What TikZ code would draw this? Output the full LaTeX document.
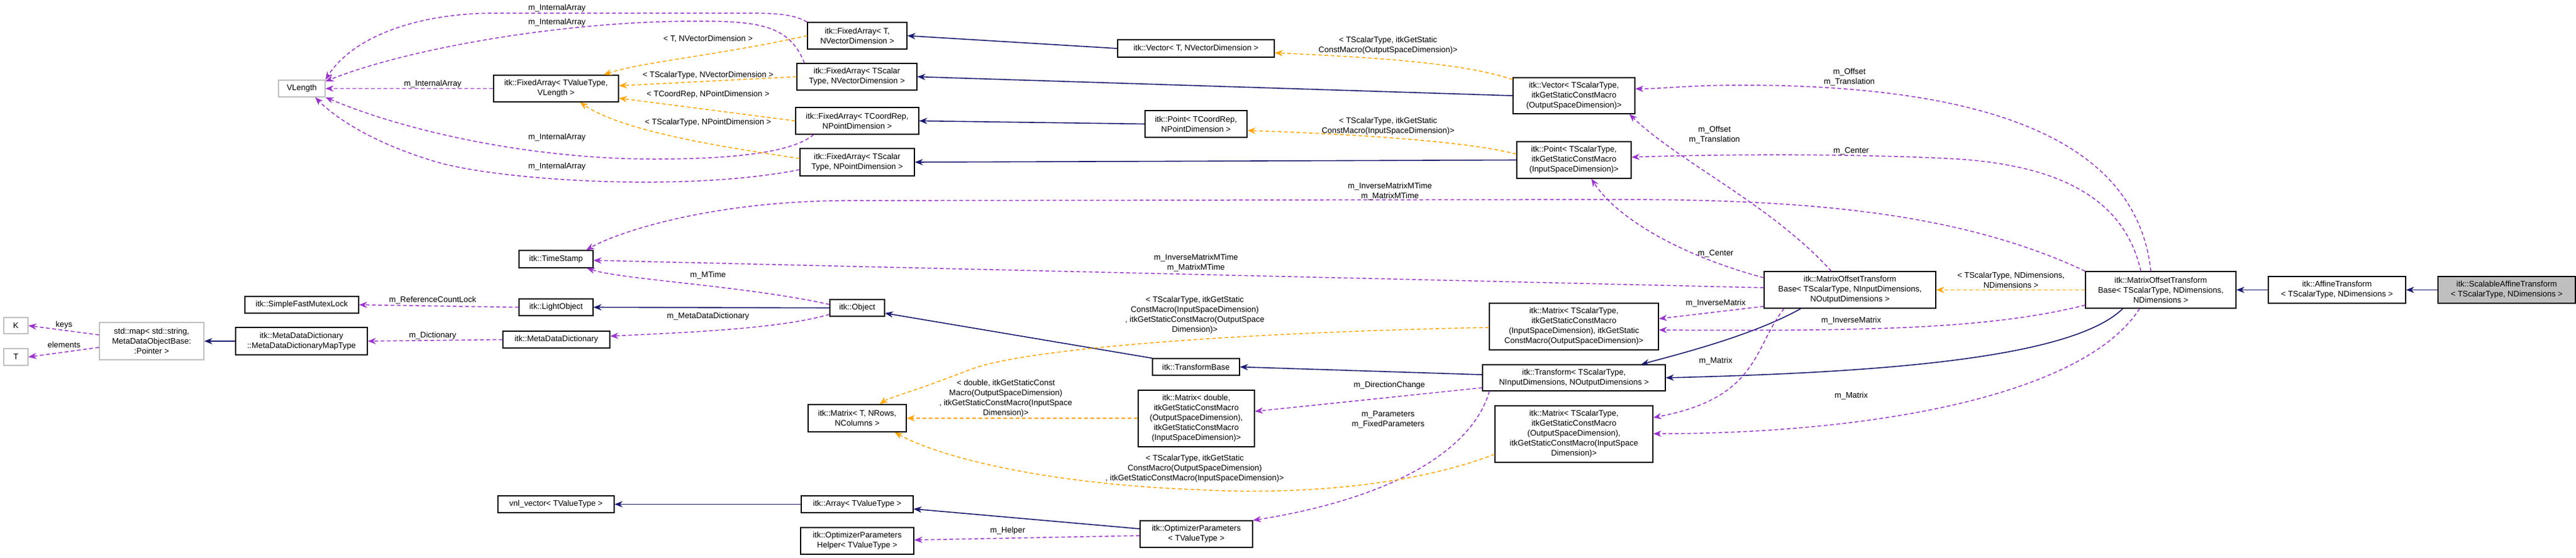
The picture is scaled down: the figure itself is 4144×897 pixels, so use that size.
\documentclass[tikz,border=0pt]{standalone}
\usepackage{fontspec}
\setmainfont{Liberation Sans}
\usetikzlibrary{arrows.meta,calc}
\definecolor{navy}{HTML}{191970}
\definecolor{purp}{HTML}{9A32CD}
\definecolor{orng}{HTML}{FFA500}
\definecolor{lgray}{HTML}{BFBFBF}
\begin{document}
\begin{tikzpicture}[x=1pt,y=-1pt,
  every node/.style={font=\fontsize{13}{16}\selectfont},
  box/.style={draw=black,line width=1.2pt,fill=white,align=center,inner sep=1pt},
  gbox/.style={box,draw=lgray},
  inh/.style={navy,line width=1.6pt,-{Stealth[length=13pt,width=10pt]}},
  use/.style={purp,line width=1.5pt,dash pattern=on 6pt off 4pt,-{Stealth[length=13pt,width=10pt]}},
  tpl/.style={orng,line width=1.5pt,dash pattern=on 6pt off 4pt,-{Stealth[length=13pt,width=10pt]}},
  lbl/.style={align=center,inner sep=0pt}]
\useasboundingbox[fill=white] (0,0) rectangle (4144,897);
% nodes
\node[gbox,minimum width=75,minimum height=27] (vl) at (485.5,142.5) {VLength};
\node[box,minimum width=201,minimum height=43] (fa0) at (894.5,142.5) {itk::FixedArray< TValueType,\\VLength >};
\node[box,minimum width=160,minimum height=43] (fa1) at (1379,57.5) {itk::FixedArray< T,\\NVectorDimension >};
\node[box,minimum width=193,minimum height=43] (fa2) at (1378.5,123.5) {itk::FixedArray< TScalar\\Type, NVectorDimension >};
\node[box,minimum width=198,minimum height=43] (fa3) at (1379,194.5) {itk::FixedArray< TCoordRep,\\NPointDimension >};
\node[box,minimum width=184,minimum height=44] (fa4) at (1379,261) {itk::FixedArray< TScalar\\Type, NPointDimension >};
\node[box,minimum width=119,minimum height=28] (ts) at (894.5,417) {itk::TimeStamp};
\node[box,minimum width=183,minimum height=27] (sfm) at (485.5,490.5) {itk::SimpleFastMutexLock};
\node[box,minimum width=119,minimum height=27] (lo) at (894.5,494.5) {itk::LightObject};
\node[box,minimum width=88,minimum height=27] (obj) at (1379,495.5) {itk::Object};
\node[gbox,minimum width=39,minimum height=26] (K) at (25.5,524) {K};
\node[gbox,minimum width=39,minimum height=27] (T) at (25.5,574.5) {T};
\node[gbox,minimum width=168,minimum height=60] (map) at (244,549) {std::map< std::string,\\MetaDataObjectBase:\\:Pointer >};
\node[box,minimum width=212,minimum height=44] (mt) at (485,549) {itk::MetaDataDictionary\\::MetaDataDictionaryMapType};
\node[box,minimum width=172,minimum height=27] (mdd) at (895,546.5) {itk::MetaDataDictionary};
\node[box,minimum width=158,minimum height=44] (matT) at (1379,673) {itk::Matrix< T, NRows,\\NColumns >};
\node[box,minimum width=187,minimum height=27] (vnl) at (894.5,811.5) {vnl\_vector< TValueType >};
\node[box,minimum width=180,minimum height=27] (ar) at (1379,811.5) {itk::Array< TValueType >};
\node[box,minimum width=182,minimum height=43] (hp) at (1379,870.5) {itk::OptimizerParameters\\Helper< TValueType >};
\node[box,minimum width=252,minimum height=28] (vec1) at (1924,78) {itk::Vector< T, NVectorDimension >};
\node[box,minimum width=196,minimum height=58] (vecS) at (2532,154) {itk::Vector< TScalarType,\\itkGetStaticConstMacro\\(OutputSpaceDimension)>};
\node[box,minimum width=164,minimum height=43] (ptC) at (1924,199.5) {itk::Point< TCoordRep,\\NPointDimension >};
\node[box,minimum width=184,minimum height=59] (ptS) at (2532,257.5) {itk::Point< TScalarType,\\itkGetStaticConstMacro\\(InputSpaceDimension)>};
\node[box,minimum width=272,minimum height=75] (matA) at (2532,525.5) {itk::Matrix< TScalarType,\\itkGetStaticConstMacro\\(InputSpaceDimension), itkGetStatic\\ConstMacro(OutputSpaceDimension)>};
\node[box,minimum width=140,minimum height=27] (tb) at (1924,590.5) {itk::TransformBase};
\node[box,minimum width=294,minimum height=42] (tr) at (2532,608) {itk::Transform< TScalarType,\\NInputDimensions, NOutputDimensions >};
\node[box,minimum width=187,minimum height=91] (matD) at (1924.5,673.5) {itk::Matrix< double,\\itkGetStaticConstMacro\\(OutputSpaceDimension),\\itkGetStaticConstMacro\\(InputSpaceDimension)>};
\node[box,minimum width=254,minimum height=91] (matB) at (2532,698.5) {itk::Matrix< TScalarType,\\itkGetStaticConstMacro\\(OutputSpaceDimension),\\itkGetStaticConstMacro(InputSpace\\Dimension)>};
\node[box,minimum width=181,minimum height=43] (op) at (1924.5,859.5) {itk::OptimizerParameters\\< TValueType >};
\node[box,minimum width=276,minimum height=59] (mo1) at (2976,466.5) {itk::MatrixOffsetTransform\\Base< TScalarType, NInputDimensions,\\NOutputDimensions >};
\node[box,minimum width=242,minimum height=59] (mo2) at (3476,466.5) {itk::MatrixOffsetTransform\\Base< TScalarType, NDimensions,\\NDimensions >};
\node[box,minimum width=221,minimum height=43] (af) at (3759.5,466.5) {itk::AffineTransform\\< TScalarType, NDimensions >};
\node[box,minimum width=221,minimum height=43,fill=lgray] (sc) at (4032.5,466.5) {itk::ScalableAffineTransform\\< TScalarType, NDimensions >};
% inheritance
\draw[inh] (vec1.west) -- (fa1.east);
\draw[inh] (vecS.west) -- (fa2.east);
\draw[inh] (ptC.west) -- (fa3.east);
\draw[inh] (ptS.west) -- (fa4.east);
\draw[inh] (mt.west) -- (map.east);
\draw[inh] (obj.west) -- (lo.east);
\draw[inh] (tb.north west) -- (obj.east |- 0,504);
\draw[inh] (tr.west |- 0,603) -- (tb.east);
\draw[inh] (2897,0 |- mo1.south) .. controls (2820,540) and (2700,570) .. (2640,0 |- tr.north);
\draw[inh] (3415,0 |- mo2.south) .. controls (3330,580) and (3000,600) .. (tr.east);
\draw[inh] (af.west) -- (mo2.east);
\draw[inh] (sc.west) -- (af.east);
\draw[inh] (op.west |- 0,851) -- (ar.east |- 0,819);
\draw[inh] (ar.west) -- (vnl.east);
% FixedArray usage
\draw[use] (fa1.north west) .. controls (1280,25) and (1260,21) .. (1200,21) -- (800,21) .. controls (650,21) and (560,70) .. (vl.north east);
\draw[use] (1294,0 |- fa2.north) .. controls (1270,40) and (1220,34) .. (1120,34) .. controls (900,34) and (650,80) .. (vl.east |- 0,131);
\draw[use] (fa0.west) -- (vl.east);
\draw[use] (1309,0 |- fa3.south) .. controls (1270,250) and (1150,256) .. (1053,256) .. controls (850,256) and (650,210) .. (vl.south east);
\draw[use] (fa4.west |- 0,273) .. controls (1100,310) and (800,290) .. (700,260) .. controls (600,230) and (540,190) .. (507,0 |- vl.south);
\node[lbl] (l1) at (896,13) {m\_InternalArray};
\node[lbl] (l2) at (896,36) {m\_InternalArray};
\node[lbl] (l3) at (696,135) {m\_InternalArray};
\node[lbl] (l4) at (896,221) {m\_InternalArray};
\node[lbl] (l5) at (896,268) {m\_InternalArray};
% FixedArray templates
\draw[tpl] (fa1.west) .. controls (1150,90) and (1030,100) .. (971,0 |- fa0.north);
\draw[tpl] (fa2.west) -- (fa0.east |- 0,138);
\draw[tpl] (fa3.west) -- (fa0.east |- 0,158);
\draw[tpl] (fa4.west |- 0,255) .. controls (1150,235) and (1000,210) .. (933,0 |- fa0.south);
\node[lbl] at (1139,63) {< T, NVectorDimension >};
\node[lbl] at (1139,121) {< TScalarType, NVectorDimension >};
\node[lbl] at (1139,152) {< TCoordRep, NPointDimension >};
\node[lbl] at (1139,197) {< TScalarType, NPointDimension >};
\draw[tpl] (vecS.west |- 0,128) .. controls (2350,100) and (2200,92) .. (vec1.east |- 0,85);
\node[lbl] at (2233,73) {< TScalarType, itkGetStatic\\ConstMacro(OutputSpaceDimension)>};
\draw[tpl] (ptS.west |- 0,248) .. controls (2350,225) and (2150,215) .. (ptC.east |- 0,210);
\node[lbl] at (2233,203) {< TScalarType, itkGetStatic\\ConstMacro(InputSpaceDimension)>};
% MOTB usage
\draw[use] (3460,0 |- mo2.north) .. controls (3440,250) and (3250,137) .. (2800,137) .. controls (2720,137) and (2670,143) .. (vecS.east |- 0,143);
\node[lbl] at (2975,124) {m\_Offset\\m\_Translation};
\draw[use] (2946,0 |- mo1.north) .. controls (2850,330) and (2700,260) .. (2621,0 |- vecS.south);
\node[lbl] at (2758,217) {m\_Offset\\m\_Translation};
\draw[use] (3444,0 |- mo2.north) .. controls (3420,330) and (3330,268) .. (3150,256) .. controls (2950,245) and (2700,250) .. (ptS.east |- 0,253);
\node[lbl] at (2978,243) {m\_Center};
\draw[use] (mo1.west |- 0,447) .. controls (2700,410) and (2600,350) .. (2560,0 |- ptS.south);
\node[lbl] at (2760,408) {m\_Center};
\draw[use] (mo2.north west) .. controls (3150,340) and (2900,321) .. (2600,321) -- (1350,323) .. controls (1150,325) and (1000,370) .. (943,0 |- ts.north);
\node[lbl] at (2236,308) {m\_InverseMatrixMTime\\m\_MatrixMTime};
\draw[use] (mo1.west |- 0,463) -- (ts.east |- 0,419);
\node[lbl] at (1924,423) {m\_InverseMatrixMTime\\m\_MatrixMTime};
\draw[use] (obj.west |- 0,490) .. controls (1200,460) and (1000,450) .. (944,0 |- ts.south);
\node[lbl] at (1139,443) {m\_MTime};
\draw[use] (lo.west) -- (sfm.east);
\node[lbl] at (696,483) {m\_ReferenceCountLock};
\draw[use] (obj.west |- 0,506) .. controls (1250,530) and (1100,535) .. (mdd.east |- 0,541);
\node[lbl] at (1139,509) {m\_MetaDataDictionary};
\draw[use] (mdd.west) -- (mt.east);
\node[lbl] at (696,540) {m\_Dictionary};
\draw[use] (map.west |- 0,539) -- (K.east);
\node[lbl] at (103,523) {keys};
\draw[use] (map.west |- 0,559) -- (T.east);
\node[lbl] at (103,555) {elements};
\draw[tpl] (mo2.west) -- (mo1.east);
\node[lbl] at (3235,451) {< TScalarType, NDimensions,\\NDimensions >};
\draw[use] (mo1.west |- 0,493) -- (matA.east |- 0,513);
\node[lbl] at (2760,488) {m\_InverseMatrix};
\draw[use] (mo2.west |- 0,491) .. controls (3200,530) and (3000,533) .. (matA.east |- 0,531);
\node[lbl] at (2978,516) {m\_InverseMatrix};
\draw[use] (2870,0 |- mo1.south) .. controls (2820,560) and (2830,640) .. (matB.east |- 0,672);
\node[lbl] at (2760,581) {m\_Matrix};
\draw[use] (3442,0 |- mo2.south) .. controls (3350,640) and (3000,698) .. (matB.east |- 0,698);
\node[lbl] at (2978,637) {m\_Matrix};
\draw[use] (tr.west |- 0,624) -- (matD.east |- 0,662);
\node[lbl] at (2235,620) {m\_DirectionChange};
\draw[use] (2396,0 |- tr.south) .. controls (2370,720) and (2250,800) .. (op.north east);
\node[lbl] at (2233,675) {m\_Parameters\\m\_FixedParameters};
\draw[use] (op.west |- 0,862) -- (hp.east |- 0,869);
\node[lbl] at (1621,854) {m\_Helper};
% Matrix templates
\draw[tpl] (matA.west |- 0,527) .. controls (2000,535) and (1650,560) .. (1560,595) .. controls (1470,630) and (1430,640) .. (1415,0 |- matT.north);
\node[lbl] at (1922,507) {< TScalarType, itkGetStatic\\ConstMacro(InputSpaceDimension)\\, itkGetStaticConstMacro(OutputSpace\\Dimension)>};
\draw[tpl] (matD.west |- 0,673) -- (matT.east |- 0,673);
\node[lbl] at (1618,641) {< double, itkGetStaticConst\\Macro(OutputSpaceDimension)\\, itkGetStaticConstMacro(InputSpace\\Dimension)>};
\draw[tpl] (matB.west |- 0,731) .. controls (2250,790) and (2050,795) .. (1927,788) .. controls (1700,780) and (1520,740) .. (1439,0 |- matT.south);
\node[lbl] at (1922,754) {< TScalarType, itkGetStatic\\ConstMacro(OutputSpaceDimension)\\, itkGetStaticConstMacro(InputSpaceDimension)>};
\end{tikzpicture}
\end{document}
